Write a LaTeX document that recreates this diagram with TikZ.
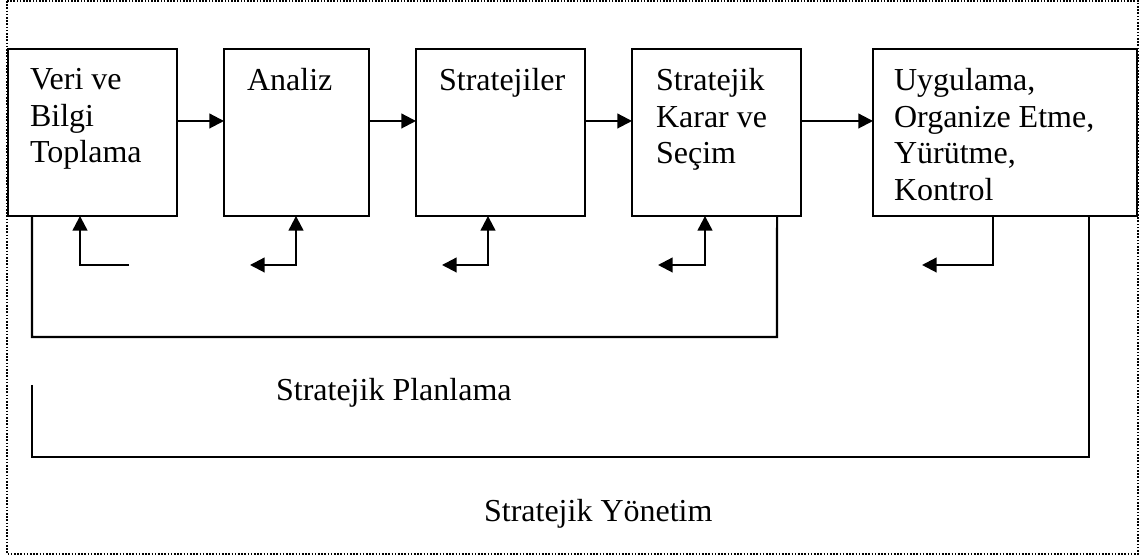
\documentclass[tikz,border=0pt]{standalone}
\usepackage{fontspec}
\setmainfont{Liberation Serif}
\usepackage{tikz}
\usetikzlibrary{calc}
\usetikzlibrary{positioning}
\usetikzlibrary{arrows.meta}

\begin{document}
\begin{tikzpicture}[x=0.375pt,y=-0.375pt,>={Triangle[length=5.5pt,width=5.5pt]},
	  line width=0.8pt,
	  box node/.style={rectangle,draw,anchor=north west,inner sep=0pt,outer sep=0pt,minimum height=62.6pt},
	  text node/.style={anchor=north west,inner sep=0pt,align=left,font=\fontsize{12pt}{13.8pt}\selectfont},
	  loop line/.style={line width=0.8pt},
	  frame line/.style={line width=0.6pt,dash pattern=on 0.6pt off 0.6pt}]

	  \useasboundingbox (0,0) rectangle (1147,557);
	  \draw[frame line] (7,1) rectangle (1138,554);

	  \node[box node, minimum width=63.4pt] (veri) at (8,49) {};
	  \node[box node, minimum width=54.4pt] (analiz) at (224,49) {};
	  \node[box node, minimum width=63.4pt] (strat) at (416,49) {};
	  \node[box node, minimum width=63.4pt] (karar) at (632,49) {};
	  \node[box node, minimum width=99pt] (uyg) at (873,49) {};

	  \node[text node] at ($ (veri.north west) + (21,18) $) {Veri ve\\Bilgi\\Toplama};
	  \node[text node] at ($ (analiz.north west) + (22,18) $) {Analiz};
	  \node[text node] at ($ (strat.north west) + (22,18) $) {Stratejiler};
	  \node[text node] at ($ (karar.north west) + (23,18) $) {Stratejik\\Karar ve\\Seçim};
	  \node[text node] at ($ (uyg.north west) + (20,18) $) {Uygulama,\\Organize Etme,\\Yürütme,\\Kontrol};

	  \coordinate (row) at (0,121);
	  \path[->]
	    	(veri.east |- row) 	edge (analiz.west |- row)
	 	(analiz.east |- row)	edge (strat.west |- row)
	 	(strat.east |- row)	edge (karar.west |- row)
	 	(karar.east |- row)	edge (uyg.west |- row);

	  % feedback under each step
	  \coordinate (fb1) at (129,265);
	  \coordinate (fb2) at (250,265);
	  \coordinate (fb3) at (442,265);
	  \coordinate (fb4) at (658,265);
	  \coordinate (fb5) at (922,265);
	  \draw[->] (fb1) -| ($ (veri.south west) + (72,0) $);
	  \draw[<->] (fb2) -| ($ (analiz.south west) + (72,0) $);
	  \draw[<->] (fb3) -| ($ (strat.south west) + (72,0) $);
	  \draw[<->] (fb4) -| ($ (karar.south west) + (73,0) $);
	  \draw[->] ($ (uyg.south west) + (120,0) $) |- (fb5);

	  % planning and management brackets
	  \draw[loop line] ($ (veri.south west) + (24,0) $) |- (777,337) -- ($ (karar.south east) + (-24,0) $);
	  \coordinate (ymtop) at (32,385);
	  \draw[loop line] (ymtop) |- (1089,457) -- ($ (uyg.south east) + (-48,0) $);

	  \node[anchor=base west, inner sep=0pt, font=\fontsize{12pt}{13.8pt}\selectfont] (sp) at (275,401) {Stratejik Planlama};
	  \node[anchor=base west, inner sep=0pt, font=\fontsize{12pt}{13.8pt}\selectfont] (sy) at (483,522) {Stratejik Yönetim};
	\end{tikzpicture}
\end{document}
